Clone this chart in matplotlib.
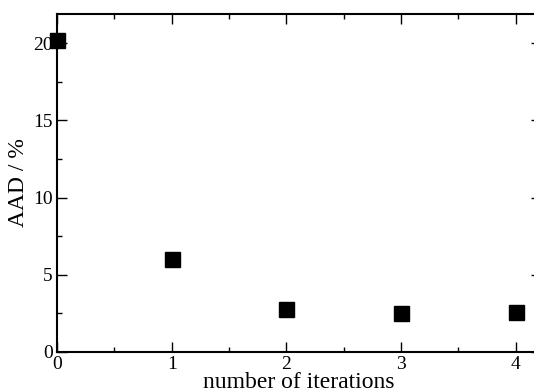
import matplotlib
matplotlib.use("Agg")
import matplotlib.pyplot as plt
from matplotlib.ticker import MultipleLocator

# data
iterations = [0, 1, 2, 3, 4]
aad = [20.2, 6.0, 2.78, 2.5, 2.58]

plt.rcParams['font.family'] = ['Liberation Serif', 'DejaVu Serif']

W, H = 534, 392
fig = plt.figure(figsize=(W / 100, H / 100), dpi=100)
# axes box in pixels: left 57, right beyond the image edge, bottom 352, top 14
ax = fig.add_axes([57 / W, 40 / H, 484 / W, 338 / H])

ax.plot(iterations, aad, linestyle='none', marker='s', markersize=10.8,
        color='black', clip_on=False, zorder=5)

ax.set_xlim(0, 4.22)
ax.set_ylim(0, 21.9)
ax.xaxis.set_major_locator(MultipleLocator(1))
ax.xaxis.set_minor_locator(MultipleLocator(0.5))
ax.yaxis.set_major_locator(MultipleLocator(5))
ax.yaxis.set_minor_locator(MultipleLocator(2.5))

ax.tick_params(which='both', direction='in', top=True, right=True,
               width=1.0, labelsize=14, pad=3)
ax.tick_params(which='major', length=7)
ax.tick_params(which='minor', length=3.5)
for s in ax.spines.values():
    s.set_linewidth(1.5)

ax.set_xlabel('number of iterations', fontsize=17, labelpad=-1)
ax.set_ylabel('AAD / %', fontsize=17, labelpad=3)

fig.savefig('out.png', dpi=100)
